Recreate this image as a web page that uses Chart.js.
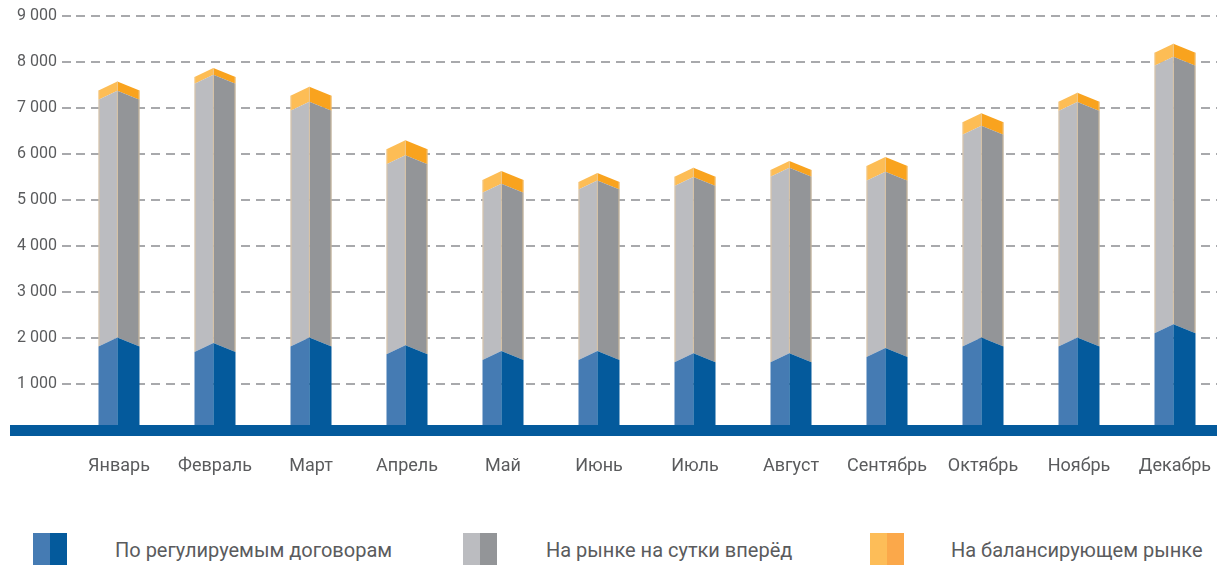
<!DOCTYPE html>
<html>
<head>
<meta charset="utf-8">
<script src="https://cdn.jsdelivr.net/npm/chart.js@4/dist/chart.umd.min.js"></script>
<style>
  html, body { margin: 0; padding: 0; background: #fff; overflow: hidden; }
  #wrap { position: relative; width: 1217px; height: 565px; overflow: hidden; }
  #chart { position: absolute; left: 0; top: 0; }
  .item { position: absolute; top: 533px; height: 34px;
          font-family: Roboto, sans-serif; font-size: 20px; color: #5a5b5d; }
  .box { position: absolute; top: 0; width: 34px; height: 34px; }
  .lbl { position: absolute; white-space: nowrap; line-height: 34px; top: 0; }
</style>
</head>
<body>
<div id="wrap">
  <canvas id="chart" width="1223" height="510"></canvas>
  <div id="legend"></div>
</div>
<script>
const months = ['Январь', 'Февраль', 'Март', 'Апрель', 'Май', 'Июнь',
                'Июль', 'Август', 'Сентябрь', 'Октябрь', 'Ноябрь', 'Декабрь'];
const seriesNames = ['По регулируемым договорам', 'На рынке на сутки вперёд', 'На балансирующем рынке'];
const regulated = [2010, 1890, 2010, 1840, 1720, 1720, 1670, 1670, 1780, 2010, 2010, 2300];
const dayAhead  = [5365, 5834, 5125, 4131, 3635, 3705, 3830, 4033, 3836, 4606, 5120, 5816];
const balancing = [203, 145, 327, 327, 275, 160, 203, 145, 319, 268, 203, 283];
const yMax = 9000;
const yStep = 1000;

const faces = [
  ['#457bb3', '#045a9c'],
  ['#bbbcc0', '#939598'],
  ['#fdbd55', '#f9a31e']
];
const legendFaces = [
  ['#457bb3', '#045a9c'],
  ['#bbbcc0', '#939598'],
  ['#fdbd58', '#fba84a']
];

const fmt = v => String(v).replace(/\B(?=(\d{3})+(?!\d))/g, ' ');

// bars drawn as two faces with a peaked top, positions taken from the bar elements
const prism = {
  id: 'prism',
  beforeDatasetDraw(chart, args) {
    const ctx = chart.ctx;
    const col = faces[args.index];
    const drop = 9;
    args.meta.data.forEach(bar => {
      const p = bar.getProps(['x', 'y', 'base', 'width'], true);
      const l = p.x - p.width / 2, r = p.x + p.width / 2;
      const m = l + p.width * 0.46;
      const bd = args.index === 0 ? 0 : drop;
      ctx.save();
      ctx.fillStyle = col[0];
      ctx.beginPath();
      ctx.moveTo(l, p.y + drop); ctx.lineTo(m, p.y); ctx.lineTo(m, p.base); ctx.lineTo(l, p.base + bd);
      ctx.closePath(); ctx.fill();
      ctx.fillStyle = col[1];
      ctx.beginPath();
      ctx.moveTo(m, p.y); ctx.lineTo(r, p.y + drop); ctx.lineTo(r, p.base + bd); ctx.lineTo(m, p.base);
      ctx.closePath(); ctx.fill();
      if (args.index > 0) {
        ctx.strokeStyle = 'rgba(236, 205, 160, 0.7)';
        ctx.lineWidth = 1;
        ctx.beginPath();
        ctx.moveTo(l + 0.5, p.y + drop); ctx.lineTo(l + 0.5, p.base + bd);
        ctx.moveTo(r - 0.5, p.y + drop); ctx.lineTo(r - 0.5, p.base + bd);
        ctx.moveTo(m, p.y); ctx.lineTo(m, p.base);
        ctx.stroke();
      }
      ctx.restore();
    });
    return false;
  },
  afterDatasetsDraw(chart) {
    const ctx = chart.ctx;
    const y0 = chart.scales.y.getPixelForValue(0);
    ctx.save();
    ctx.fillStyle = '#045a9c';
    ctx.fillRect(10, y0 - 5, chart.width, 11);
    ctx.restore();
  }
};

new Chart(document.getElementById('chart'), {
  type: 'bar',
  data: {
    labels: months,
    datasets: [
      { label: seriesNames[0], data: regulated, backgroundColor: faces[0][1] },
      { label: seriesNames[1], data: dayAhead, backgroundColor: faces[1][1] },
      { label: seriesNames[2], data: balancing, backgroundColor: faces[2][1] }
    ]
  },
  options: {
    responsive: false,
    animation: false,
    barThickness: 41,
    layout: { padding: { top: 16, left: 0, right: 0, bottom: 0 } },
    scales: {
      x: {
        stacked: true,
        grid: { display: false, drawTicks: false },
        border: { display: false },
        ticks: { color: '#5a5b5d', font: { family: 'Roboto', size: 18 }, padding: 26 },
        afterFit: s => { s.height = 80; s.paddingLeft = 0; s.paddingRight = 0; }
      },
      y: {
        stacked: true,
        min: 0,
        max: yMax,
        grid: {
          color: c => c.tick && c.tick.value === 0 ? 'transparent' : '#a8a9ac',
          lineWidth: 2,
          tickLength: 9,
          tickColor: '#a8a9ac',
          tickWidth: 2
        },
        border: { display: false, dash: [9, 6], dashOffset: 10 },
        ticks: {
          stepSize: yStep,
          padding: 5,
          color: '#5a5b5d',
          font: { family: 'Roboto', size: 16 },
          callback: v => v === 0 ? '' : fmt(v)
        },
        afterFit: s => { s.width = 71; }
      }
    },
    plugins: {
      legend: { display: false },
      tooltip: { enabled: false }
    }
  },
  plugins: [prism]
});

// legend below the chart
const legendPos = [[33, 115], [463, 546], [870, 951]];
const legend = document.getElementById('legend');
seriesNames.forEach((name, i) => {
  const box = document.createElement('div');
  box.className = 'item';
  box.style.left = legendPos[i][0] + 'px';
  box.innerHTML =
    '<div class="box" style="left:0;background:linear-gradient(90deg,' +
    legendFaces[i][0] + ' 50%,' + legendFaces[i][1] + ' 50%)"></div>' +
    '<div class="lbl" style="left:' + (legendPos[i][1] - legendPos[i][0]) + 'px">' + name + '</div>';
  legend.appendChild(box);
});
</script>
</body>
</html>
